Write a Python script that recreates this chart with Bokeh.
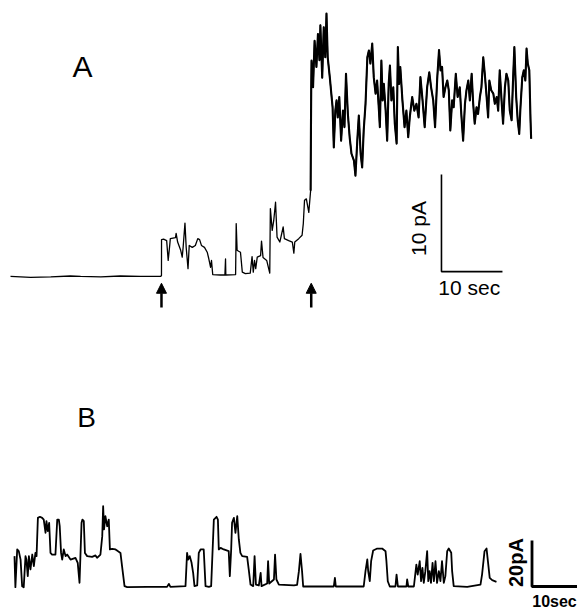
from bokeh.plotting import figure
from bokeh.layouts import column
from bokeh.models import Range1d, Label, Arrow, NormalHead
from bokeh.embed import file_html
from bokeh.resources import INLINE
import math

# ---------------- Panel A data: time (s), current (pA) ----------------
a_time = [0, 3.3, 6.6, 9.8, 11.5, 14.8, 18.0, 21.3, 24.6,
          24.75, 24.76, 25.1, 25.6, 25.85, 26.1, 26.2, 27.05, 27.15, 27.4, 27.9,
          28.15, 28.3, 28.6, 28.8, 29.1, 29.3, 29.8, 30.3, 30.7, 31.0,
          31.3, 31.8, 32.25, 32.5, 32.8, 32.95, 33.15, 34.4, 35.15, 35.25,
          35.3, 36.9, 37.0, 37.15, 37.4, 37.7, 38.0, 38.5, 39.3, 39.6,
          39.8, 40.0, 40.2, 40.45, 41.0, 41.15, 41.4, 42.0, 42.5, 42.6,
          42.9, 43.15, 43.45, 43.7, 44.15, 44.7, 44.9, 45.6, 46.2, 46.45,
          46.6, 47.25, 47.8, 48.0, 48.2, 48.5, 48.9, 49.2, 49.25, 49.3,
          49.35, 49.45, 49.6, 49.85, 50.15, 50.4, 50.65, 50.8, 51.1, 51.35,
          51.6, 51.8, 52.0, 52.35, 52.6, 52.8, 53.0, 53.25, 53.45, 53.65,
          53.9, 54.2, 54.5, 54.75, 55.0, 55.3, 55.6, 55.9, 56.3, 56.55,
          56.85, 57.1, 57.4, 57.65, 57.9, 58.2, 58.5, 58.75, 59.0, 59.3,
          59.55, 59.85, 60.1, 60.4, 60.55, 60.8, 61.0, 61.2, 61.5, 61.75,
          62.0, 62.2, 62.45, 62.75, 63.0, 63.3, 63.5, 63.7, 63.9, 64.25,
          64.6, 64.9, 65.2, 65.45, 65.85, 66.2, 66.55, 66.9, 67.2, 67.55,
          67.9, 68.3, 68.65, 68.95, 69.3, 69.6, 69.95, 70.25, 70.5, 70.75,
          71.0, 71.3, 71.6, 71.85, 72.1, 72.4, 72.65, 73.0, 73.3, 73.65,
          73.9, 74.2, 74.5, 74.75, 75.05, 75.3, 75.6, 75.85, 76.1, 76.4,
          76.65, 76.95, 77.2, 77.5, 77.75, 78.05, 78.3, 78.5, 78.8, 79.15,
          79.4, 79.7, 79.95, 80.2, 80.5, 80.75, 81.05, 81.3, 81.6, 81.85,
          82.15, 82.4, 82.6, 82.9, 83.15, 83.4, 83.6, 83.9, 84.15, 84.4,
          84.6, 84.8, 85.05, 85.25, 85.35]
a_current = [0, -0.1, -0.05, 0.05, 0, -0.05, 0.05, 0, 0,
             0.1, 3.8, 3.85, 3.7, 1.65, 3.2, 3.9, 4.0, 4.45, 3.55, 2.7,
             2.0, 3.0, 5.5, 3.0, 0.8, 3.2, 3.0, 3.2, 3.9, 3.8,
             3.2, 3.0, 2.5, 1.85, 0.95, 1.65, 0.2, 0.15, 0.15, 1.8,
             0.15, 0.2, 5.45, 2.7, 2.6, 2.5, 0.45, 0.3, 0.35, 2.05,
             0.45, 1.65, 0.8, 2.0, 2.15, 3.65, 1.95, 1.65, 0.35, 7.0,
             4.75, 5.75, 7.65, 4.05, 3.55, 5.1, 3.9, 3.7, 3.55, 2.4,
             3.55, 3.9, 4.25, 5.45, 7.85, 8.0, 6.6, 8.85, 14.75, 19.5,
             22.25, 21.4, 19.5, 24.3, 21.6, 25.0, 22.3, 25.9, 20.5, 25.7,
             22.6, 27.1, 22.6, 20.5, 18.8, 17.45, 13.3, 17.1, 18.15, 16.4,
             18.5, 14.0, 17.1, 15.4, 20.9, 16.8, 14.35, 12.65, 11.95, 10.4,
             14.0, 16.6, 12.65, 11.25, 15.05, 17.8, 22.6, 23.3, 21.95, 24.0,
             20.55, 18.85, 20.2, 17.1, 15.4, 22.25, 18.15, 19.85, 17.1, 14.0,
             19.85, 21.75, 18.15, 19.5, 15.75, 13.7, 23.65, 19.85, 21.6, 18.15,
             15.4, 17.1, 14.35, 16.4, 18.5, 17.1, 17.8, 16.4, 20.55, 18.15,
             15.4, 19.5, 21.05, 19.5, 18.15, 15.4, 20.4, 23.35, 21.25, 21.6,
             18.5, 19.5, 20.2, 19.2, 15.05, 18.15, 17.45, 20.9, 18.5, 19.5,
             16.75, 14.0, 17.8, 19.2, 20.2, 18.15, 20.9, 17.8, 15.75, 17.45,
             16.75, 18.5, 19.5, 22.6, 20.9, 18.5, 16.4, 20.2, 19.2, 18.85,
             17.8, 18.5, 17.1, 21.25, 18.15, 15.75, 19.5, 20.9, 20.2, 17.1,
             16.1, 20.55, 23.65, 18.5, 16.1, 14.7, 17.45, 20.55, 21.25, 20.2,
             23.5, 21.95, 21.25, 16.1, 14.2]
a_stim_times = [24.75, 49.3]
a_scale_pa = 10
a_scale_sec = 10

# ---------------- Panel B data: time (s), current (pA) ----------------
b_time = [0, 0.2, 0.6, 0.95, 1.35, 1.7, 2.05, 2.45, 2.65, 2.95,
          3.2, 3.55, 3.95, 4.3, 4.65, 4.9, 5.2, 5.65, 6.15, 6.5,
          6.9, 7.1, 7.4, 7.7, 8.0, 8.35, 9.1, 9.5, 9.85, 10.05,
          10.35, 10.6, 10.95, 11.35, 11.7, 12.45, 13.55, 14.05, 14.45, 14.65,
          14.9, 15.1, 15.4, 15.65, 16.15, 17.25, 18.0, 18.35, 19.1, 19.5,
          19.7, 19.9, 20.2, 20.6, 20.95, 21.2, 21.7, 22.45, 22.95, 23.55,
          23.9, 24.45, 25.05, 29.5, 33.9, 34.3, 34.65, 38.0, 38.35, 38.6,
          38.95, 39.35, 39.7, 40.0, 40.6, 40.95, 41.35, 42.05, 42.45, 43.2,
          43.7, 44.3, 44.9, 45.2, 45.4, 45.8, 46.5, 47.6, 47.85, 48.15,
          48.35, 48.75, 49.1, 49.5, 49.85, 50.2, 50.6, 51.7, 52.05, 52.45,
          53.05, 53.35, 53.65, 54.3, 54.7, 54.9, 56.15, 56.35, 56.6, 57.65,
          57.9, 58.2, 58.75, 62.1, 62.8, 63.2, 63.55, 63.9, 64.15, 70.95,
          71.2, 71.4, 77.6, 78.0, 78.4, 78.6, 78.95, 79.25, 79.7, 80.6,
          81.7, 82.45, 82.65, 82.95, 83.4, 84.65, 84.9, 85.2, 87.1, 87.25,
          87.5, 88.75, 89.3, 89.6, 90.05, 90.35, 90.65, 90.95, 91.3, 91.7,
          91.95, 92.25, 92.55, 92.9, 93.2, 93.55, 93.9, 94.3, 94.65, 95.0,
          95.4, 95.75, 96.15, 96.5, 97.05, 97.25, 97.6, 100.6, 103.55, 103.9,
          104.45, 104.9, 105.2, 105.6, 106.15, 107.1]
b_current = [13.2, -0.3, 16.1, 15.4, 11.7, 0.15, -0.3, 13.2, 11.7, 4.5,
             13.2, 7.4, 13.9, 8.85, 14.6, 13.2, 29.85, 30.3, 29.85, 29.1,
             23.35, 28.4, 24.05, 27.7, 14.6, 13.9, 13.9, 29.1, 29.1, 26.2,
             14.6, 11.7, 16.1, 13.2, 13.9, 11.7, 12.45, 10.3, 1.6, 13.2,
             27.7, 29.1, 28.4, 14.6, 13.2, 12.9, 13.5, 12.45, 13.9, 21.9,
             34.9, 24.8, 30.6, 26.2, 29.1, 16.1, 16.4, 16.1, 15.4, 14.6,
             8.85, 0.15, -0.3, -0.15, -0.15, 1.15, -0.15, 0.15, 14.6, 11.7,
             13.2, 10.3, 5.95, 0.15, 0.45, 14.6, 16.1, 16.1, 0.15, -0.15,
             0.15, 29.1, 30.3, 29.1, 16.1, 16.8, 16.1, 15.4, 4.5, 16.1,
             27.7, 29.85, 23.35, 30.6, 20.45, 14.6, 13.2, 12.9, 7.4, 0.85,
             0.15, 13.2, 0.85, 0.45, 5.95, 0.15, 1.3, 11.0, 1.3, 3.05,
             13.9, 3.05, 0.85, 0.45, 0.7, 6.65, 14.2, 6.65, 0, 0,
             3.75, 0, 0, 6.65, 11.75, 6.65, 2.3, 11.0, 15.65, 16.5,
             16.5, 15.35, 11.0, 2.3, 0, 0, 5.2, 0, 0, 3.05,
             0, 0, 9.55, 5.2, 11.0, 2.3, 8.1, 1.6, 6.65, 15.35,
             2.3, 6.65, 1.6, 10.3, 2.3, 11.0, 1.6, 6.65, 2.3, 11.0,
             1.6, 4.5, 15.35, 16.5, 14.65, 6.65, 0.15, -0.15, 0.85, 5.2,
             15.35, 16.5, 11.0, 3.75, 2.75, 2.05]
b_scale_pa = 20
b_scale_sec = 10

FONT = "Liberation Sans"


def base_fig(w, h, xr, yr):
    p = figure(width=w, height=h, x_range=Range1d(*xr), y_range=Range1d(*yr),
               output_backend="svg", toolbar_location=None, min_border=0)
    p.axis.visible = False
    p.xgrid.visible = False
    p.ygrid.visible = False
    p.outline_line_color = None
    p.background_fill_color = "white"
    p.border_fill_color = "white"
    return p


# ---------------- Panel A ----------------
pa = base_fig(582, 330, (-1.64, 93.77), (-5.57, 28.45))
pa.line(a_time, a_current, line_color="black", line_width=1.3, line_join="round")
# the noisy post-jump part of the record looks thicker in print
jump = a_time.index(49.2)
pa.line(a_time[jump:], a_current[jump:], line_color="black", line_width=2.1,
        line_join="round")

for t in a_stim_times:
    pa.add_layout(Arrow(end=NormalHead(size=10, fill_color="black", line_color="black"),
                        x_start=t, y_start=-3.2, x_end=t, y_end=-0.7,
                        line_color="black", line_width=2.5))

sa_t0, sa_i0 = 70.65, 0.5
pa.line([sa_t0, sa_t0, sa_t0 + a_scale_sec], [sa_i0 + a_scale_pa, sa_i0, sa_i0],
        line_color="black", line_width=1.6)
pa.add_layout(Label(x=11.8, y=21.65, text="A", text_font=FONT, text_font_size="30px",
                    text_align="center", text_baseline="middle", text_color="black"))
pa.add_layout(Label(x=66.9, y=4.95, text=f"{a_scale_pa} pA", angle=math.pi / 2,
                    text_font=FONT, text_font_size="21px",
                    text_align="center", text_baseline="middle", text_color="black"))
pa.add_layout(Label(x=75.2, y=-1.1, text=f"{a_scale_sec} sec", text_font=FONT,
                    text_font_size="21px", text_align="center", text_baseline="middle",
                    text_color="black"))

# ---------------- Panel B ----------------
pb = base_fig(582, 279, (-3.11, 126.22), (-10.0, 111.3))
pb.line(b_time, b_current, line_color="black", line_width=1.8, line_join="round")

sb_t0, sb_i0 = 115.0, 0.0
pb.line([sb_t0, sb_t0, sb_t0 + b_scale_sec], [sb_i0 + b_scale_pa, sb_i0, sb_i0],
        line_color="black", line_width=2.8)
pb.add_layout(Label(x=16.0, y=73.5, text="B", text_font=FONT, text_font_size="28px",
                    text_align="center", text_baseline="middle", text_color="black"))
pb.add_layout(Label(x=111.55, y=10.4, text=f"{b_scale_pa}pA", angle=math.pi / 2,
                    text_font=FONT, text_font_size="20px", text_font_style="bold",
                    text_align="center", text_baseline="middle", text_color="black"))
pb.add_layout(Label(x=120.0, y=-6.6, text=f"{b_scale_sec}sec", text_font=FONT,
                    text_font_size="16px", text_font_style="bold",
                    text_align="center", text_baseline="middle", text_color="black"))

layout = column(pa, pb, spacing=0)
open("out.html", "w").write(file_html(layout, INLINE))
